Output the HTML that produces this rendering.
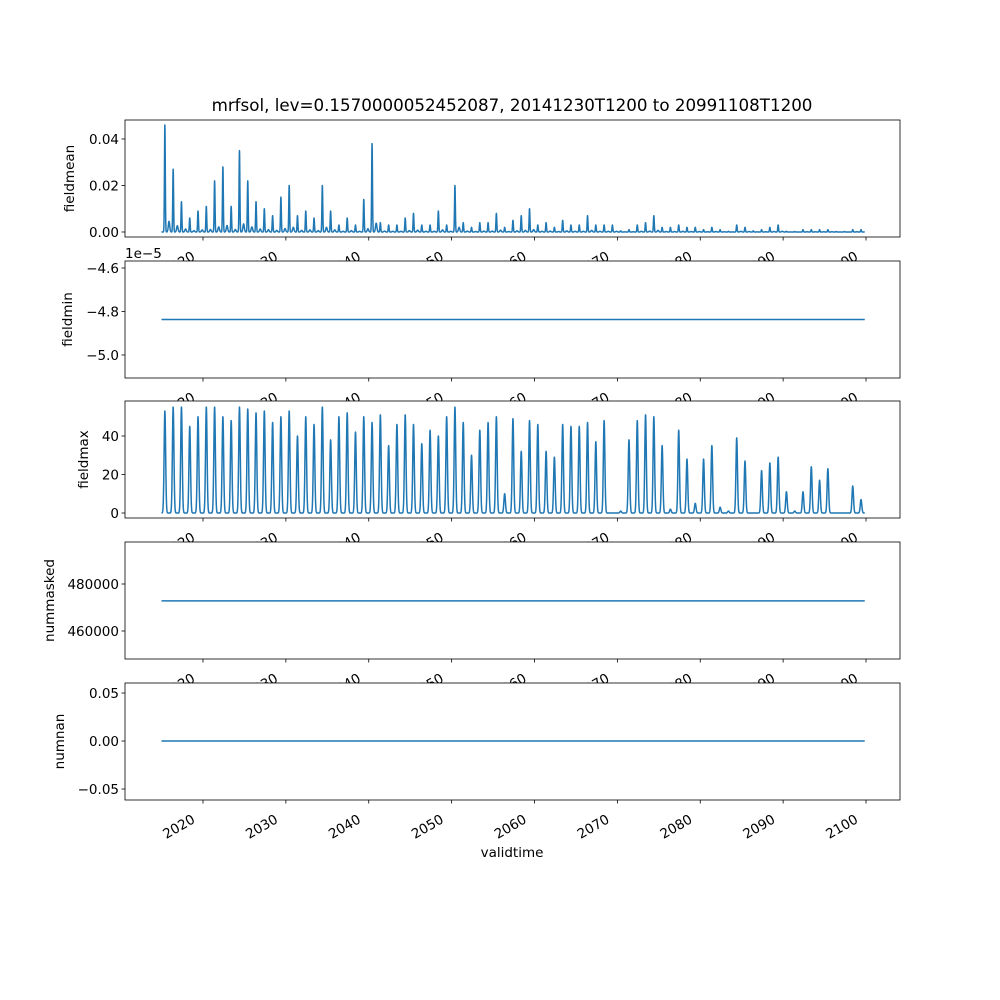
<!DOCTYPE html>
<html><head><meta charset="utf-8"><style>
body{margin:0;background:#fff}
svg{display:block;font-family:"DejaVu Sans","Liberation Sans",sans-serif}
</style></head><body>
<svg id="c" width="1000" height="1000" viewBox="0 0 1000 1000"></svg>
<script>
const years=[];for(let y=2015;y<=2099;y++)years.push(y);
const meanPeaks=[0.046,0.027,0.013,0.006,0.009,0.011,0.022,0.028,0.011,0.035,0.022,0.013,0.010,0.007,0.015,0.020,0.007,0.009,0.006,0.020,0.009,0.003,0.006,0.003,0.014,0.038,0.004,0.003,0.003,0.006,0.008,0.003,0.003,0.009,0.003,0.020,0.004,0.002,0.004,0.004,0.008,0.002,0.005,0.007,0.010,0.003,0.004,0.002,0.005,0.003,0.003,0.007,0.003,0.003,0.003,0.0005,0.001,0.003,0.004,0.007,0.002,0.002,0.003,0.002,0.002,0.001,0.002,0.001,0.0003,0.003,0.002,0.0005,0.001,0.002,0.003,0.0003,0.0002,0.001,0.001,0.001,0.001,0.0002,0.0002,0.001,0.001];
const maxPeaks=[53,55,55,45,50,55,55,50,48,55,54,52,53,47,50,53,40,50,46,55,38,50,52,42,50,47,51,35,46,51,46,36,43,40,50,55,47,30,43,47,50,10,49,32,48,46,32,29,46,45,45,47,37,48,0,1,38,48,51,50,35,2,43,28,5,28,35,3,1,39,27,0,22,26,29,11,1,11,24,17,23,0,0,14,7];
const fieldminValue=-4.837e-5;
const nummaskedValue=472800;
const numnanValue=0;
const xTicks=[2020,2030,2040,2050,2060,2070,2080,2090,2100];
const NS="http://www.w3.org/2000/svg";
const svg=document.getElementById('c');
function el(t,a,p){const e=document.createElementNS(NS,t);for(const k in a)e.setAttribute(k,a[k]);(p||svg).appendChild(e);return e;}
const X0=125,X1=900;
const xs=y=>203+(y-2020)*8.2875;
const blue="#1f77b4";
function series(peaks,width,sec){
 const pts=[];
 for(let t=2014.99;t<=2099.86;t+=0.01){
  let v=0;
  const i=Math.round(t-2015.4);
  for(let k=Math.max(0,i-1);k<=Math.min(peaks.length-1,i+1);k++){
   const c=years[k]+0.4;const d=(t-c)/width;v+=peaks[k]*Math.exp(-d*d);
   if(sec){const d2=(t-c-0.5)/0.12; v+=peaks[k]*sec*Math.exp(-d2*d2);}
  }
  pts.push([t,v]);
 }
 return pts;
}
const panels=[
 {top:120,name:'fieldmean',ylab:'fieldmean',lx:74,ticks:[0,0.02,0.04],fmt:v=>v.toFixed(2),v2y:v=>232-v*2325,data:series(meanPeaks,0.07,0.1)},
 {top:261,name:'fieldmin',ylab:'fieldmin',lx:72,ticks:[-4.6e-5,-4.8e-5,-5.0e-5],fmt:v=>(v*1e5).toFixed(1).replace('-','−'),v2y:v=>268+(-4.6e-5-v)*1e5*217.5,flat:fieldminValue},
 {top:401,name:'fieldmax',ylab:'fieldmax',lx:88,ticks:[0,20,40],fmt:v=>String(v),v2y:v=>513-v*1.925,data:series(maxPeaks,0.13,0)},
 {top:542,name:'nummasked',ylab:'nummasked',lx:54,ticks:[460000,480000],fmt:v=>String(v),v2y:v=>631-(v-460000)*47/20000,flat:nummaskedValue},
 {top:683,name:'numnan',ylab:'numnan',lx:64,ticks:[-0.05,0,0.05],fmt:v=>v.toFixed(2).replace('-','−'),v2y:v=>741-v*960,flat:numnanValue}
];
panels.forEach((p,pi)=>{
 const g=el('g',{});
 
 
 el('rect',{x:X0,y:p.top,width:X1-X0,height:117,fill:'#fff'},g);
 const clipId='cl'+pi;
 const cp=el('clipPath',{id:clipId},g);el('rect',{x:X0,y:p.top,width:X1-X0,height:117},cp);
 let d='';
 if(p.data){p.data.forEach((q,i)=>{d+=(i?'L':'M')+xs(q[0]).toFixed(2)+','+p.v2y(q[1]).toFixed(2);});}
 else{const yy=p.v2y(p.flat);d='M'+xs(2014.99)+','+yy+'L'+xs(2099.85)+','+yy;}
 const line=el('path',{d:d,fill:'none',stroke:blue,'stroke-width':1.5,'stroke-linejoin':'round','clip-path':'url(#'+clipId+')'},g);
 
 
 el('rect',{x:X0,y:p.top,width:X1-X0,height:117,fill:'none',stroke:'#000','stroke-width':0.8},g);
 p.ticks.forEach(t=>{const y=p.v2y(t);el('line',{x1:X0-3.5,x2:X0,y1:y,y2:y,stroke:'#000','stroke-width':0.8},g);
  const tx=el('text',{x:X0-6,y:y+5,'font-size':13.5,'text-anchor':'end'},g);tx.textContent=p.fmt(t);});
 const yl=el('text',{x:0,y:0,'font-size':13.5,'text-anchor':'middle',transform:'translate('+p.lx+','+(p.top+58.5)+') rotate(-90)'},g);
 yl.textContent=p.ylab;
 
 
 const bot=p.top+117;
 xTicks.forEach(t=>{const x=xs(t);el('line',{x1:x,x2:x,y1:bot,y2:bot+3.5,stroke:'#000','stroke-width':0.8},g);
  const tx=el('text',{x:0,y:0,'font-size':13.5,'text-anchor':'end',transform:'translate('+(x-7)+','+(bot+22)+') rotate(-30)'},g);tx.textContent=t;});
});
const off=el('text',{x:125,y:258,'font-size':13.5});off.textContent='1e−5';
const title=el('text',{x:512,y:111,'font-size':16.7,'text-anchor':'middle'});
title.textContent='mrfsol, lev=0.1570000052452087, 20141230T1200 to 20991108T1200';


const xl=el('text',{x:512,y:857,'font-size':13.5,'text-anchor':'middle'});
xl.textContent='validtime';


</script>
</body></html>
